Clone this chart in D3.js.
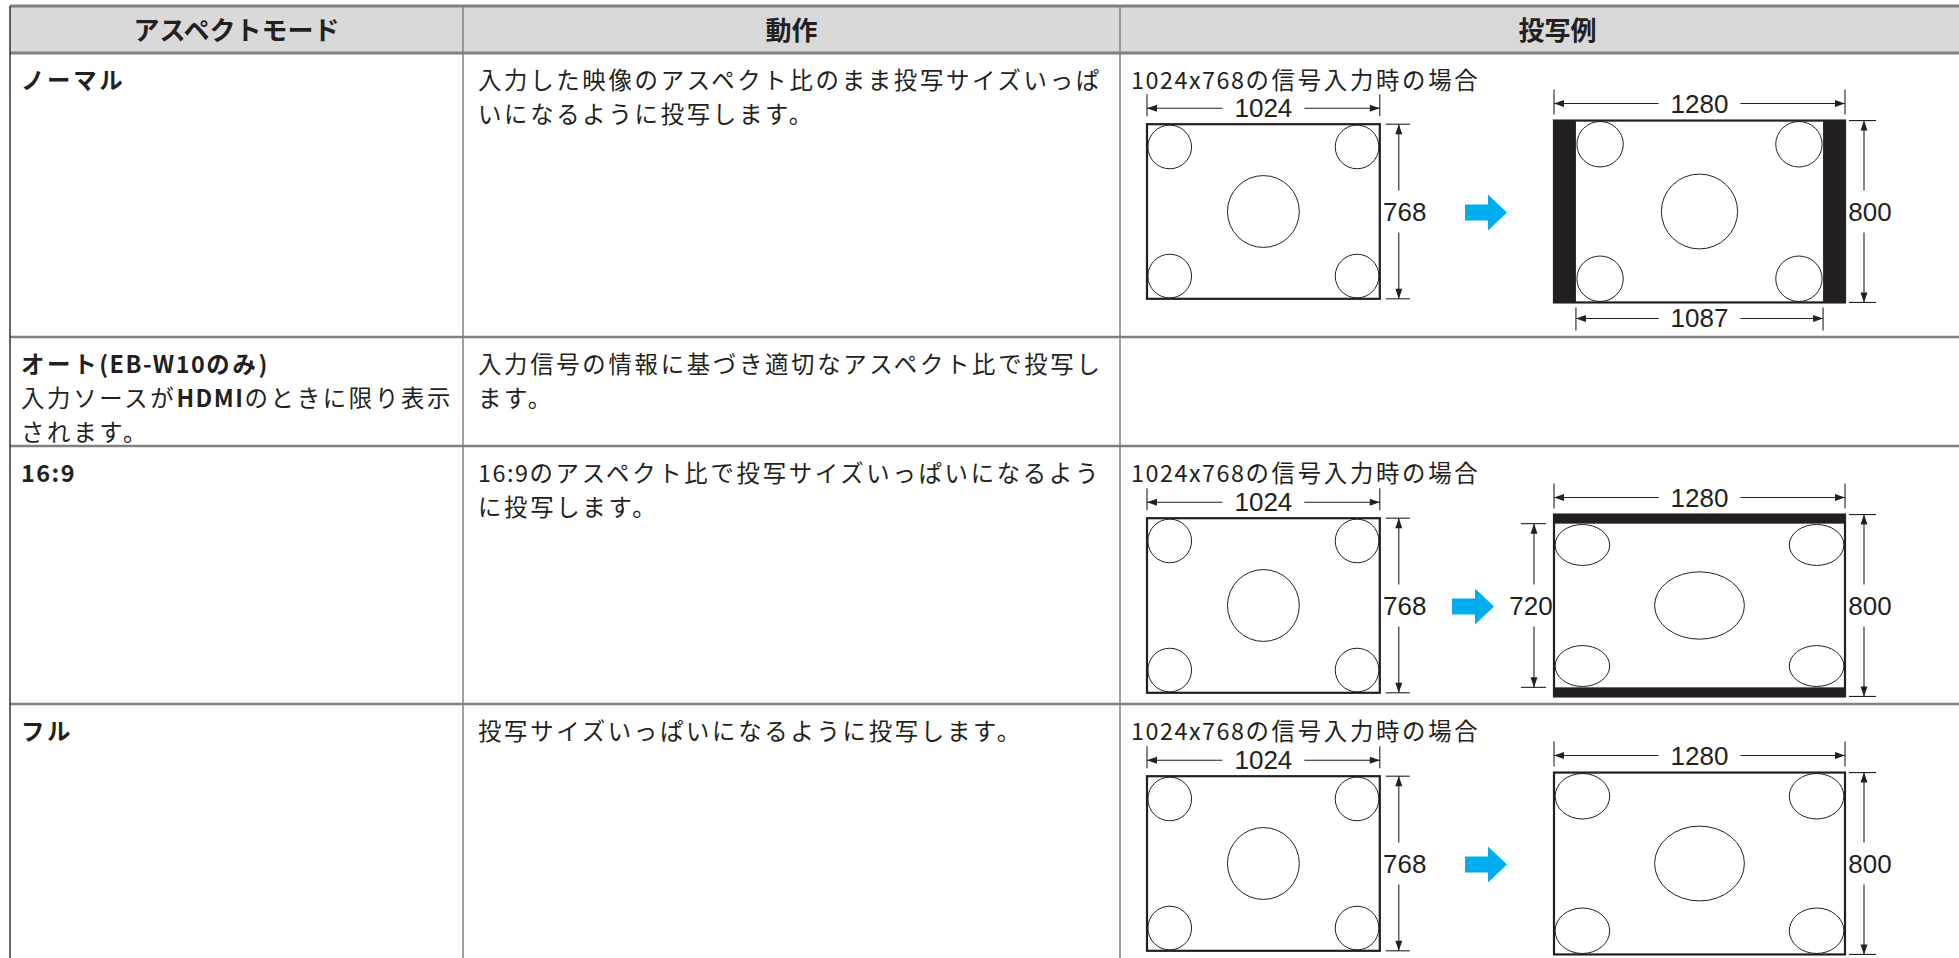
<!DOCTYPE html>
<html><head><meta charset="utf-8">
<script src="https://cdn.jsdelivr.net/npm/d3@7"></script>
<style>html,body{margin:0;padding:0;background:#fff;overflow:hidden}</style>
</head><body>
<svg id="c" width="1959" height="958"></svg>
<script>
// ---------- data ----------
const headers = ["アスペクトモード", "動作", "投写例"];
const modeLines = [
  [[["ノーマル", true]]],
  [[["オート(EB-W10のみ)", true]], [["入力ソースが", false], ["HDMI", true], ["のときに限り表示", false]], [["されます。", false]]],
  [[["16:9", true]]],
  [[["フル", true]]]
];
const actionLines = [
  ["入力した映像のアスペクト比のまま投写サイズいっぱ", "いになるように投写します。"],
  ["入力信号の情報に基づき適切なアスペクト比で投写し", "ます。"],
  ["16:9のアスペクト比で投写サイズいっぱいになるよう", "に投写します。"],
  ["投写サイズいっぱいになるように投写します。"]
];
const exampleCaption = "1024x768の信号入力時の場合";
const inputSize = [1024, 768];
const panelSize = [1280, 800];
const projectedWidth = [1087, null, 1280, 1280];
const projectedHeight = [800, null, 720, 800];
// test pattern in input pixels: [cx, cy, r]
const testPattern = [[100, 100, 96], [924, 100, 96], [100, 668, 96], [924, 668, 96], [512, 384, 158]];

// ---------- layout ----------
const W = 1959, H = 958;
const colX = [10, 463, 1120, 1995];
const rowY = [6, 53, 337, 446, 704, 1000];
const JP = '"Noto Sans CJK JP","Noto Sans",sans-serif';
const LAT = '"Liberation Sans",Arial,sans-serif';
const INK = '#231f20';
const svg = d3.select('#c');

// header background
svg.append('rect').attr('x', colX[0]).attr('y', rowY[0]).attr('width', colX[3] - colX[0])
  .attr('height', rowY[1] - rowY[0]).attr('fill', '#d9d9d9');

// grid lines
svg.selectAll('line.h').data(rowY.slice(0, 5)).enter().append('line')
  .attr('x1', colX[0]).attr('x2', colX[3]).attr('y1', d => d).attr('y2', d => d)
  .attr('stroke', '#808080').attr('stroke-width', (d, i) => i < 2 ? 3 : 2.5);
svg.selectAll('line.v').data(colX.slice(0, 3)).enter().append('line')
  .attr('x1', d => d).attr('x2', d => d).attr('y1', rowY[0]).attr('y2', H)
  .attr('stroke', (d, i) => i === 0 ? '#333' : '#808080').attr('stroke-width', 1.5);

// headers
svg.selectAll('text.hd').data(headers).enter().append('text')
  .attr('x', (d, i) => (colX[i] + colX[i + 1]) / 2).attr('y', 40)
  .attr('text-anchor', 'middle').attr('font-family', JP).attr('font-weight', 'bold')
  .attr('font-size', 26).attr('fill', INK).text(d => d);

const LH = 34, FS = 23.4, LS_CJK = 2.7, LS_LAT = 1.5;
// split a string into Latin / CJK runs so that each gets its own spacing
function runs(str) {
  return str.split(/([\u0000-\u024F]+)/).filter(r => r.length)
    .map(r => [r, /^[\u0000-\u024F]+$/.test(r)]);
}
// write one line (array of [text, bold]) into a <text> element
function writeLine(t, segs, x, y) {
  let first = true;
  segs.forEach(sg => {
    runs(sg[0]).forEach(r => {
      const sp = t.append('tspan').attr('font-weight', sg[1] ? 'bold' : 'normal')
        .attr('letter-spacing', r[1] ? LS_LAT : LS_CJK).text(r[0]);
      if (first) { sp.attr('x', x).attr('y', y); first = false; }
    });
  });
}
function para(lines, x, y0) {
  const t = svg.append('text').attr('font-family', JP).attr('font-size', FS).attr('fill', INK);
  lines.forEach((segs, k) => writeLine(t, segs, x, y0 + k * LH));
  return t;
}
// mode column
modeLines.forEach((lines, i) => para(lines, 21, rowY[i + 1] + 36));
// action column
actionLines.forEach((lines, i) => para(lines.map(l => [[l, false]]), 478, rowY[i + 1] + 36));

// ---------- diagrams ----------
const s = d3.scaleLinear().domain([0, panelSize[0]]).range([0, 291]);

function head(g, x, y, dir) {
  const L = 10, w = 3.5;
  let p;
  if (dir === 'l') p = [[x, y], [x + L, y - w], [x + L, y + w]];
  if (dir === 'r') p = [[x, y], [x - L, y - w], [x - L, y + w]];
  if (dir === 'u') p = [[x, y], [x - w, y + L], [x + w, y + L]];
  if (dir === 'd') p = [[x, y], [x - w, y - L], [x + w, y - L]];
  g.append('path').attr('d', d3.line()(p) + 'Z').attr('fill', INK);
}
function seg(g, x1, y1, x2, y2) {
  g.append('line').attr('x1', x1).attr('y1', y1).attr('x2', x2).attr('y2', y2)
    .attr('stroke', INK).attr('stroke-width', 1.1);
}
function label(g, x, y, v) {
  return g.append('text').attr('x', x).attr('y', y).attr('text-anchor', 'middle')
    .attr('dominant-baseline', 'central').attr('font-family', LAT).attr('font-size', 26)
    .attr('fill', INK).text(v);
}
function hDim(g, x1, x2, y, t1, t2, v) {
  seg(g, x1, t1, x1, t2); seg(g, x2, t1, x2, t2);
  const m = (x1 + x2) / 2;
  const t = label(g, m, y, v);
  const gap = t.node().getComputedTextLength() / 2 + 12;
  seg(g, x1, y, m - gap, y); seg(g, m + gap, y, x2, y);
  head(g, x1, y, 'l'); head(g, x2, y, 'r');
}
function vDim(g, x, y1, y2, t1, t2, v, lx) {
  seg(g, t1, y1, t2, y1); seg(g, t1, y2, t2, y2);
  const m = (y1 + y2) / 2;
  label(g, lx, m, v);
  const gap = 21;
  seg(g, x, y1, x, m - gap); seg(g, x, m + gap, x, y2);
  head(g, x, y1, 'u'); head(g, x, y2, 'd');
}

projectedWidth.forEach((pw, i) => {
  if (pw == null) return;
  const ph = projectedHeight[i];
  const top = rowY[i + 1];
  const g = svg.append('g');
  const cy = (i === 0 ? 52 : top) + 159.5;

  para([[[exampleCaption, false]]], 1131, top + 36);

  // input image
  const lw = s(inputSize[0]), lh = s(inputSize[1]);
  const lx = 1147, ly = cy - lh / 2;
  g.append('rect').attr('x', lx).attr('y', ly).attr('width', lw).attr('height', lh)
    .attr('fill', '#fff').attr('stroke', INK).attr('stroke-width', 2.2);
  g.selectAll('ellipse.in').data(testPattern).enter().append('ellipse')
    .attr('cx', d => lx + s(d[0])).attr('cy', d => ly + s(d[1]))
    .attr('rx', d => s(d[2])).attr('ry', d => s(d[2]))
    .attr('fill', 'none').attr('stroke', INK).attr('stroke-width', 1);
  hDim(g, lx, lx + lw, ly - 16, ly - 30, ly - 8, inputSize[0]);
  vDim(g, lx + lw + 19, ly, ly + lh, lx + lw + 6, lx + lw + 30, inputSize[1], lx + lw + 25);

  // panel
  const rw = s(panelSize[0]), rh = s(panelSize[1]);
  const rx = 1554, ry = cy - rh / 2;
  const x0 = (panelSize[0] - pw) / 2, y0 = (panelSize[1] - ph) / 2;
  const sx = pw / inputSize[0], sy = ph / inputSize[1];
  g.append('rect').attr('x', rx).attr('y', ry).attr('width', rw).attr('height', rh).attr('fill', INK);
  g.append('rect').attr('x', rx + s(x0)).attr('y', ry + s(y0)).attr('width', s(pw)).attr('height', s(ph)).attr('fill', '#fff');
  g.append('rect').attr('x', rx).attr('y', ry).attr('width', rw).attr('height', rh)
    .attr('fill', 'none').attr('stroke', INK).attr('stroke-width', 2.2);
  g.selectAll('ellipse.out').data(testPattern).enter().append('ellipse')
    .attr('cx', d => rx + s(x0 + d[0] * sx)).attr('cy', d => ry + s(y0 + d[1] * sy))
    .attr('rx', d => s(d[2] * sx)).attr('ry', d => s(d[2] * sy))
    .attr('fill', 'none').attr('stroke', INK).attr('stroke-width', 1);
  hDim(g, rx, rx + rw, ry - 17, ry - 31, ry - 6, panelSize[0]);
  vDim(g, rx + rw + 19, ry, ry + rh, rx + rw + 4, rx + rw + 31, panelSize[1], rx + rw + 25);
  if (pw !== panelSize[0]) {
    hDim(g, rx + s(x0), rx + s(x0 + pw), ry + rh + 16, ry + rh + 5, ry + rh + 28, pw);
  }
  const hasV = ph !== panelSize[1];
  if (hasV) {
    vDim(g, rx - 20, ry + s(y0), ry + s(y0 + ph), rx - 33, rx - 8, ph, rx - 23);
  }

  // blue arrow
  const ax = rx - (hasV ? 102 : 89), ay = cy + 1;
  g.append('path').attr('d', d3.line()([
    [ax, ay - 8], [ax + 23, ay - 8], [ax + 23, ay - 18], [ax + 42, ay],
    [ax + 23, ay + 18], [ax + 23, ay + 8], [ax, ay + 8]]) + 'Z')
    .attr('fill', '#00aeef');
});
</script>
</body></html>
